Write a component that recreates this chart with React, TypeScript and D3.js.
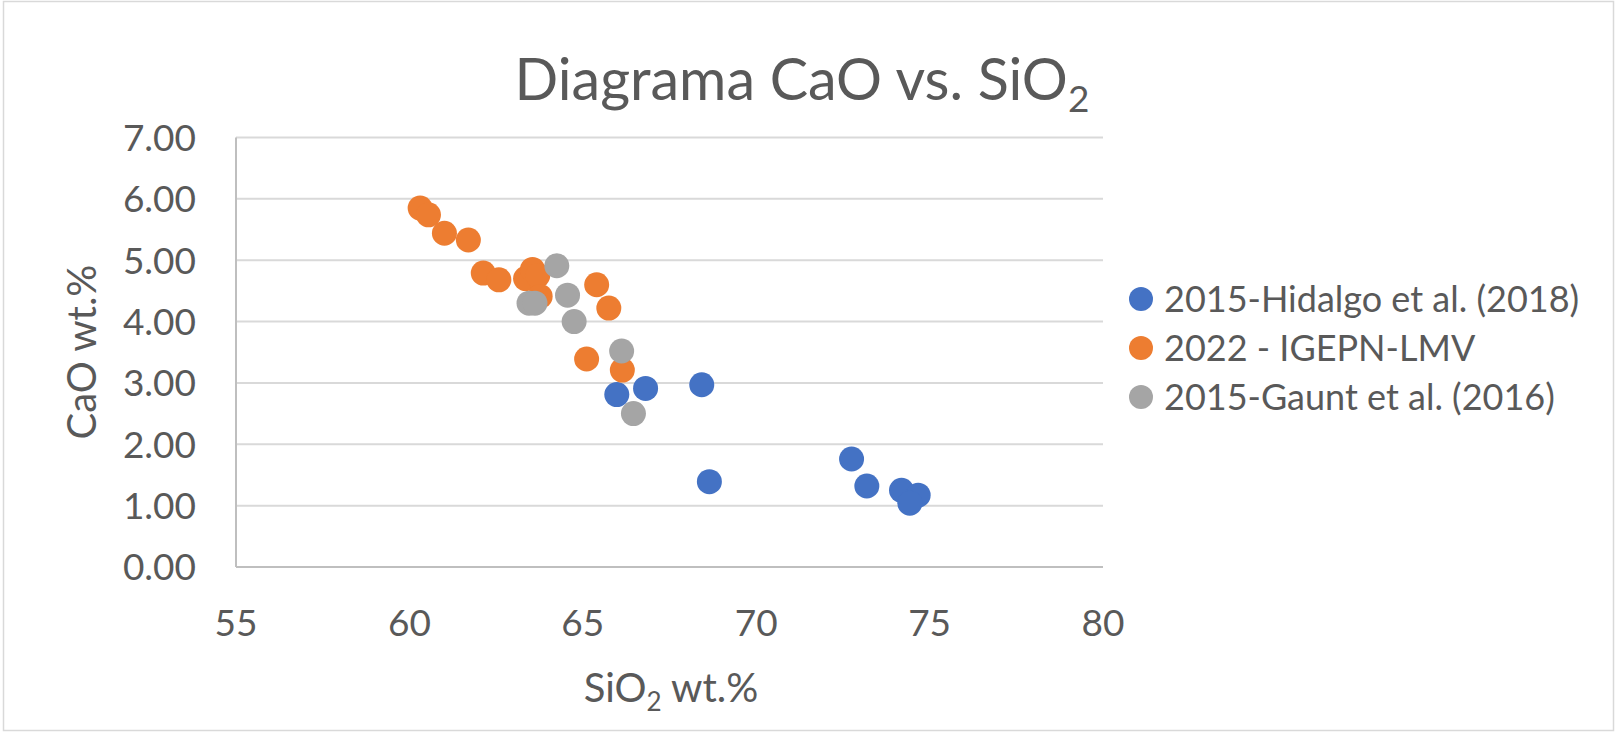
import React from "react";
import * as d3 from "d3";

const seriesNames = ["2015-Hidalgo et al. (2018)", "2022 - IGEPN-LMV", "2015-Gaunt et al. (2016)"];
const seriesColors = ["#4472C4", "#ED7D31", "#A5A5A5"];

const hidalgoSiO2 = [65.98, 66.81, 68.43, 68.65, 72.75, 73.19, 74.19, 74.67, 74.43];
const hidalgoCaO = [2.81, 2.91, 2.97, 1.39, 1.76, 1.32, 1.25, 1.17, 1.04];

const igepnSiO2 = [60.31, 60.55, 61.01, 61.70, 62.13, 62.58, 63.35, 63.55, 63.70, 63.77, 65.40, 65.75, 65.11, 66.14];
const igepnCaO = [5.85, 5.74, 5.44, 5.33, 4.79, 4.68, 4.70, 4.85, 4.75, 4.41, 4.60, 4.22, 3.39, 3.21];

const gauntSiO2 = [64.25, 63.45, 63.62, 64.56, 64.75, 66.12, 66.46];
const gauntCaO = [4.91, 4.30, 4.30, 4.43, 4.00, 3.52, 2.50];

const xTicks = [55, 60, 65, 70, 75, 80];
const yTicks = [0, 1, 2, 3, 4, 5, 6, 7];

const W = 1616;
const H = 733;
const FONT = "Lato, 'Open Sans', sans-serif";
const TEXT = "#595959";

export default function App() {
  const x = d3.scaleLinear().domain([55, 80]).range([236, 1103]);
  const y = d3.scaleLinear().domain([0, 7]).range([567, 137.5]);

  const series = [
    { xs: hidalgoSiO2, ys: hidalgoCaO },
    { xs: igepnSiO2, ys: igepnCaO },
    { xs: gauntSiO2, ys: gauntCaO },
  ];

  const legendY = [299, 348, 397];

  return (
    <svg width={W} height={H} style={{ position: "absolute", left: 0, top: 0, background: "#fff" }}>
      <rect x={0} y={0} width={W} height={H} fill="#fff" />
      <rect x={3.5} y={1.5} width={W - 6} height={H - 4} fill="none" stroke="#d9d9d9" strokeWidth={1.5} />

      {/* Title */}
      <text x={802} y={100} textAnchor="middle" fontFamily={FONT} fontSize={57.5} fill={TEXT}>
        Diagrama CaO vs. SiO
        <tspan fontSize={37} dy={12}>2</tspan>
      </text>

      {/* Gridlines */}
      {yTicks.map((t) => (
        <line key={"g" + t} x1={x(55)} x2={x(80)} y1={y(t)} y2={y(t)}
          stroke={t === 0 ? "#bfbfbf" : "#d9d9d9"} strokeWidth={2} />
      ))}
      <line x1={x(55)} x2={x(55)} y1={y(7)} y2={y(0)} stroke="#bfbfbf" strokeWidth={2} />

      {/* Y tick labels */}
      {yTicks.map((t) => (
        <text key={"yl" + t} x={196} y={y(t)} dy="0.36em" textAnchor="end" fontFamily={FONT} fontSize={37} fill={TEXT}>
          {d3.format(".2f")(t)}
        </text>
      ))}

      {/* X tick labels */}
      {xTicks.map((t) => (
        <text key={"xl" + t} x={x(t)} y={623} dy="0.36em" textAnchor="middle" fontFamily={FONT} fontSize={37} fill={TEXT}>
          {t}
        </text>
      ))}

      {/* Axis titles */}
      <text transform={`translate(96,352) rotate(-90)`} textAnchor="middle" fontFamily={FONT} fontSize={40} fill={TEXT}>
        CaO wt.%
      </text>
      <text x={671} y={702} textAnchor="middle" fontFamily={FONT} fontSize={40} fill={TEXT}>
        SiO<tspan fontSize={26} dy={9}>2</tspan><tspan dy={-9}> wt.%</tspan>
      </text>

      {/* Points */}
      {series.map((s, si) => (
        <g key={"s" + si}>
          {s.xs.map((xv, i) => (
            <circle key={i} cx={x(xv)} cy={y(s.ys[i])} r={12.5} fill={seriesColors[si]} />
          ))}
        </g>
      ))}

      {/* Legend */}
      {seriesNames.map((n, i) => (
        <g key={"lg" + i}>
          <circle cx={1141} cy={legendY[i]} r={12} fill={seriesColors[i]} />
          <text x={1164} y={legendY[i]} dy="0.36em" fontFamily={FONT} fontSize={36} fill={TEXT}>
            {n}
          </text>
        </g>
      ))}
    </svg>
  );
}
